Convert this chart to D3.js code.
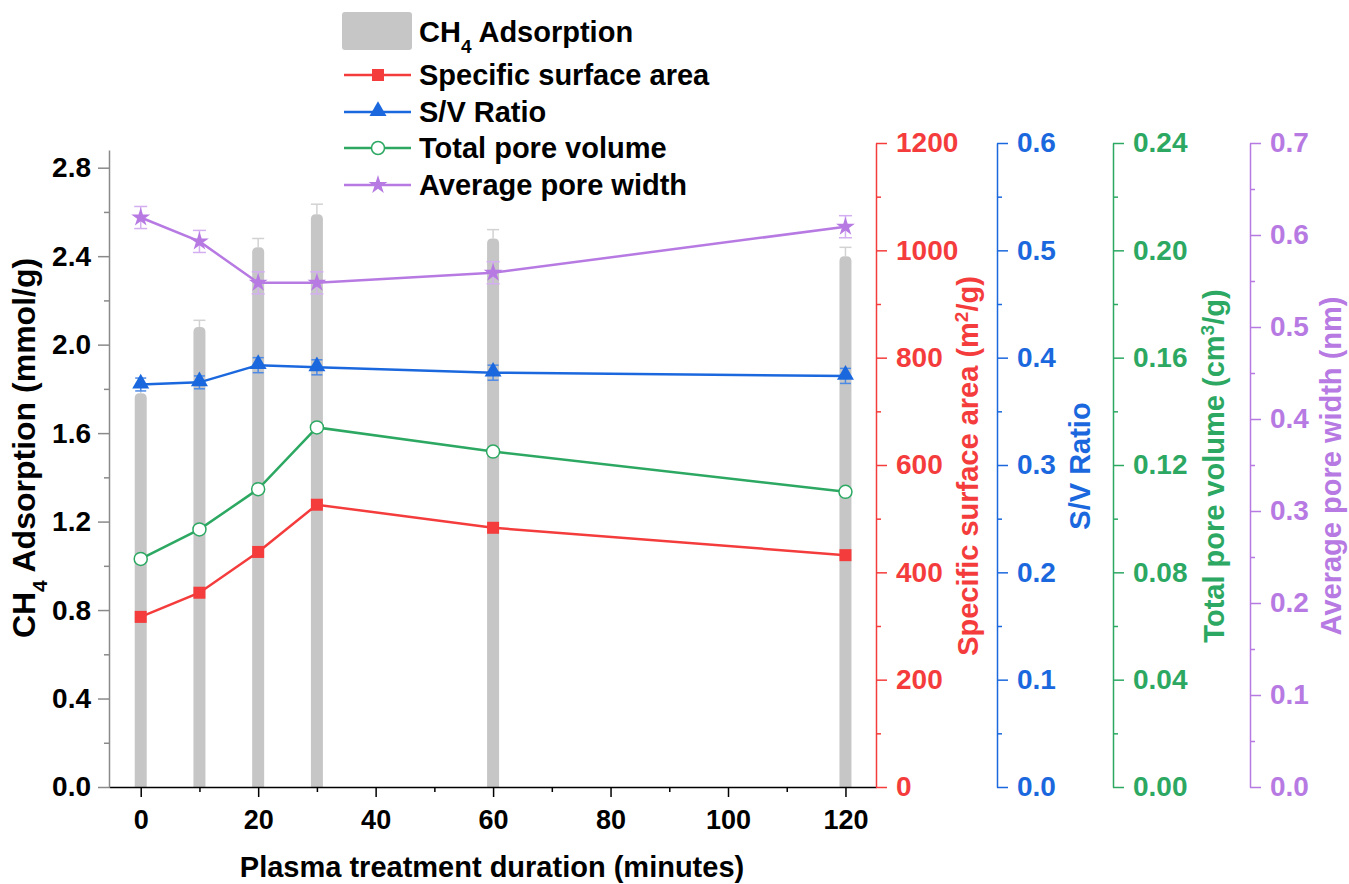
<!DOCTYPE html>
<html>
<head>
<meta charset="utf-8">
<script src="https://cdn.jsdelivr.net/npm/d3@7"></script>
<style>
  body { margin: 0; background: #fff; }
  text { font-family: "Liberation Sans", Arial, sans-serif; font-weight: bold; }
</style>
</head>
<body>
<svg id="chart" width="1349" height="884"></svg>
<script>
// values
var times = [0, 10, 20, 30, 60, 120];
var ch4 = [1.78, 2.08, 2.44, 2.59, 2.48, 2.40];
var ch4Err = [0.03, 0.03, 0.04, 0.045, 0.04, 0.04];
var surfaceArea = [317, 362, 438, 526, 483, 432];
var svRatio = [0.375, 0.377, 0.393, 0.391, 0.386, 0.383];
var svErr = [0.006, 0.006, 0.007, 0.007, 0.007, 0.007];
var poreVolume = [0.085, 0.096, 0.111, 0.134, 0.125, 0.110];
var poreWidth = [0.619, 0.593, 0.548, 0.548, 0.559, 0.609];
var pwErr = [0.012, 0.012, 0.012, 0.012, 0.012, 0.012];

// tick labels
var xTicks = [0, 20, 40, 60, 80, 100, 120];
var xMinor = [10, 30, 50, 70, 90, 110];
var leftTicks = [0, 0.4, 0.8, 1.2, 1.6, 2.0, 2.4, 2.8];
var leftMinor = [0.2, 0.6, 1.0, 1.4, 1.8, 2.2, 2.6];
var areaTicks = [0, 200, 400, 600, 800, 1000, 1200];
var areaMinor = [100, 300, 500, 700, 900, 1100];
var svTicks = [0, 0.1, 0.2, 0.3, 0.4, 0.5, 0.6];
var svMinor = [0.05, 0.15, 0.25, 0.35, 0.45, 0.55];
var volTicks = [0, 0.04, 0.08, 0.12, 0.16, 0.20, 0.24];
var volMinor = [0.02, 0.06, 0.10, 0.14, 0.18, 0.22];
var widthTicks = [0, 0.1, 0.2, 0.3, 0.4, 0.5, 0.6, 0.7];
var widthMinor = [0.05, 0.15, 0.25, 0.35, 0.45, 0.55, 0.65];

var colors = { bar: "#c6c6c6", red: "#f43c3c", blue: "#1b68de", green: "#2ca862", purple: "#b77ae3" };

var svg = d3.select("#chart");
var plotLeft = 109, plotRight = 876, plotTop = 143, plotBottom = 787;

var x = d3.scaleLinear().domain([-5.4, 125.2]).range([plotLeft, plotRight]);
var yCh4 = d3.scaleLinear().domain([0, 2.88]).range([plotBottom, 150]);
var yArea = d3.scaleLinear().domain([0, 1200]).range([plotBottom, plotTop]);
var ySv = d3.scaleLinear().domain([0, 0.6]).range([plotBottom, plotTop]);
var yVol = d3.scaleLinear().domain([0, 0.24]).range([plotBottom, plotTop]);
var yWidth = d3.scaleLinear().domain([0, 0.7]).range([plotBottom, plotTop]);

// bars with rounded tops
var barW = 12, rr = 5;
function barPath(i) {
    var x0 = x(times[i]) - barW / 2, x1 = x(times[i]) + barW / 2;
    var t = yCh4(ch4[i]), b = yCh4(0);
    return "M" + x0 + "," + b + "V" + (t + rr) + "Q" + x0 + "," + t + " " + (x0 + rr) + "," + t +
        "H" + (x1 - rr) + "Q" + x1 + "," + t + " " + x1 + "," + (t + rr) + "V" + b + "Z";
}
svg.append("g").selectAll("path").data(d3.range(times.length)).enter()
    .append("path").attr("d", barPath).attr("fill", colors.bar);

function errorBars(vals, errs, yScale, color, capW) {
    var g = svg.append("g").attr("stroke", color).attr("stroke-width", 1.5);
    vals.forEach(function(v, i) {
        var cx = x(times[i]);
        var y1 = yScale(v + errs[i]), y2 = yScale(v - errs[i]);
        g.append("line").attr("x1", cx).attr("x2", cx).attr("y1", y1).attr("y2", y2);
        g.append("line").attr("x1", cx - capW / 2).attr("x2", cx + capW / 2).attr("y1", y1).attr("y2", y1);
        g.append("line").attr("x1", cx - capW / 2).attr("x2", cx + capW / 2).attr("y1", y2).attr("y2", y2);
    });
}
// only the upper part of the bar error shows above the bar
(function() {
    var g = svg.append("g").attr("stroke", "#d2d2d2").attr("stroke-width", 1.5);
    ch4.forEach(function(v, i) {
        var cx = x(times[i]);
        var y1 = yCh4(v + ch4Err[i]);
        g.append("line").attr("x1", cx).attr("x2", cx).attr("y1", y1).attr("y2", yCh4(v));
        g.append("line").attr("x1", cx - 6).attr("x2", cx + 6).attr("y1", y1).attr("y2", y1);
    });
})();

// axes
function styleAxis(g, color) {
    g.select(".domain").attr("stroke", color).attr("stroke-width", 1.5);
    g.selectAll(".tick line").attr("stroke", color).attr("stroke-width", 1.5);
    g.selectAll(".tick text").attr("fill", color).style("font-size", "28px");
}

var gx = svg.append("g").attr("transform", "translate(0," + plotBottom + ")")
    .call(d3.axisBottom(x).tickValues(xTicks).tickSize(10).tickSizeOuter(0).tickPadding(13));
styleAxis(gx, "#000");
gx.selectAll(".tick text").style("font-size", "27px");
var gxm = svg.append("g").attr("transform", "translate(0," + plotBottom + ")")
    .call(d3.axisBottom(x).tickValues(xMinor).tickSize(5).tickFormat(""));
gxm.select(".domain").remove();
gxm.selectAll("line").attr("stroke", "#000").attr("stroke-width", 1.5);

var gl = svg.append("g").attr("transform", "translate(" + plotLeft + ",0)")
    .call(d3.axisLeft(yCh4).tickValues(leftTicks).tickSize(11).tickSizeOuter(0).tickPadding(7)
        .tickFormat(d3.format(".1f")));
styleAxis(gl, "#8a8a8a");
gl.selectAll(".tick text").attr("fill", "#000");
var glm = svg.append("g").attr("transform", "translate(" + plotLeft + ",0)")
    .call(d3.axisLeft(yCh4).tickValues(leftMinor).tickSize(5).tickFormat(""));
glm.select(".domain").remove();
glm.selectAll("line").attr("stroke", "#8a8a8a").attr("stroke-width", 1.5);

function rightAxis(pos, scale, ticks, minor, fmt, color) {
    var g = svg.append("g").attr("transform", "translate(" + pos + ",0)")
        .call(d3.axisRight(scale).tickValues(ticks).tickSize(11).tickSizeOuter(0).tickPadding(9)
            .tickFormat(d3.format(fmt)));
    styleAxis(g, color);
    var m = svg.append("g").attr("transform", "translate(" + pos + ",0)")
        .call(d3.axisRight(scale).tickValues(minor).tickSize(5).tickFormat(""));
    m.select(".domain").remove();
    m.selectAll("line").attr("stroke", color).attr("stroke-width", 1.5);
}
rightAxis(876, yArea, areaTicks, areaMinor, "d", colors.red);
rightAxis(997, ySv, svTicks, svMinor, ".1f", colors.blue);
rightAxis(1113, yVol, volTicks, volMinor, ".2f", colors.green);
rightAxis(1250, yWidth, widthTicks, widthMinor, ".1f", colors.purple);

// lines and markers
function series(vals, yScale, color) {
    var line = d3.line().x(function(d, i) { return x(times[i]); }).y(function(d) { return yScale(d); });
    svg.append("path").datum(vals).attr("d", line).attr("fill", "none")
        .attr("stroke", color).attr("stroke-width", 2.5);
}
series(surfaceArea, yArea, colors.red);
series(poreVolume, yVol, colors.green);
errorBars(svRatio, svErr, ySv, "#4d8ae6", 11);
series(svRatio, ySv, colors.blue);
errorBars(poreWidth, pwErr, yWidth, "#d3aef0", 13);
series(poreWidth, yWidth, colors.purple);

svg.append("g").selectAll("rect").data(surfaceArea).enter().append("rect")
    .attr("x", function(d, i) { return x(times[i]) - 6; })
    .attr("y", function(d) { return yArea(d) - 6; })
    .attr("width", 12).attr("height", 12).attr("fill", colors.red);

svg.append("g").selectAll("path").data(svRatio).enter().append("path")
    .attr("d", d3.symbol().type(d3.symbolTriangle).size(125))
    .attr("transform", function(d, i) { return "translate(" + x(times[i]) + "," + (ySv(d) - 1) + ")"; })
    .attr("fill", colors.blue);

svg.append("g").selectAll("circle").data(poreVolume).enter().append("circle")
    .attr("cx", function(d, i) { return x(times[i]); })
    .attr("cy", function(d) { return yVol(d); })
    .attr("r", 6.5).attr("fill", "#fff").attr("stroke", colors.green).attr("stroke-width", 1.5);

svg.append("g").selectAll("path").data(poreWidth).enter().append("path")
    .attr("d", d3.symbol().type(d3.symbolStar).size(110))
    .attr("transform", function(d, i) { return "translate(" + x(times[i]) + "," + yWidth(d) + ")"; })
    .attr("fill", colors.purple);

// axis titles
function vTitle(cx, cy, size, color, parts) {
    var t = svg.append("text").attr("transform", "translate(" + cx + "," + cy + ") rotate(-90)")
        .attr("text-anchor", "middle").attr("fill", color).style("font-size", size + "px");
    parts.forEach(function(p) {
        var s = t.append("tspan").text(p[0]);
        if (p[1]) s.attr("baseline-shift", p[1]).style("font-size", Math.round(size * 0.65) + "px");
    });
}
vTitle(35, 448, 32, "#000", [["CH"], ["4", "sub"], [" Adsorption (mmol/g)"]]);
vTitle(978, 466, 29, colors.red, [["Specific surface area (m"], ["2", "super"], ["/g)"]]);
vTitle(1090, 466, 29, colors.blue, [["S/V Ratio"]]);
vTitle(1224, 466, 29, colors.green, [["Total pore volume (cm"], ["3", "super"], ["/g)"]]);
vTitle(1341, 466, 29, colors.purple, [["Average pore width (nm)"]]);

svg.append("text").attr("x", 492).attr("y", 877).attr("text-anchor", "middle")
    .style("font-size", "29px").text("Plasma treatment duration (minutes)");

// legend
var lg = svg.append("g");
lg.append("rect").attr("x", 342).attr("y", 12).attr("width", 70).attr("height", 38)
    .attr("rx", 3).attr("fill", colors.bar);
var lt = lg.append("text").attr("x", 419).attr("y", 42).style("font-size", "29px");
lt.append("tspan").text("CH");
lt.append("tspan").text("4").attr("baseline-shift", "sub").style("font-size", "19px");
lt.append("tspan").text(" Adsorption");

var legendRows = [
    { label: "Specific surface area", color: colors.red, y: 75, mark: "square" },
    { label: "S/V Ratio", color: colors.blue, y: 112, mark: "triangle" },
    { label: "Total pore volume", color: colors.green, y: 148, mark: "circle" },
    { label: "Average pore width", color: colors.purple, y: 185, mark: "star" }
];
legendRows.forEach(function(r) {
    lg.append("line").attr("x1", 344).attr("x2", 411).attr("y1", r.y).attr("y2", r.y)
        .attr("stroke", r.color).attr("stroke-width", 2.5);
    if (r.mark === "square") {
        lg.append("rect").attr("x", 372).attr("y", r.y - 6).attr("width", 12).attr("height", 12).attr("fill", r.color);
    } else if (r.mark === "triangle") {
        lg.append("path").attr("d", d3.symbol().type(d3.symbolTriangle).size(125))
            .attr("transform", "translate(378," + (r.y - 1) + ")").attr("fill", r.color);
    } else if (r.mark === "circle") {
        lg.append("circle").attr("cx", 378).attr("cy", r.y).attr("r", 6.5)
            .attr("fill", "#fff").attr("stroke", r.color).attr("stroke-width", 1.5);
    } else {
        lg.append("path").attr("d", d3.symbol().type(d3.symbolStar).size(110))
            .attr("transform", "translate(378," + r.y + ")").attr("fill", r.color);
    }
    lg.append("text").attr("x", 419).attr("y", r.y + 10).style("font-size", "29px").text(r.label);
});
</script>
</body>
</html>
